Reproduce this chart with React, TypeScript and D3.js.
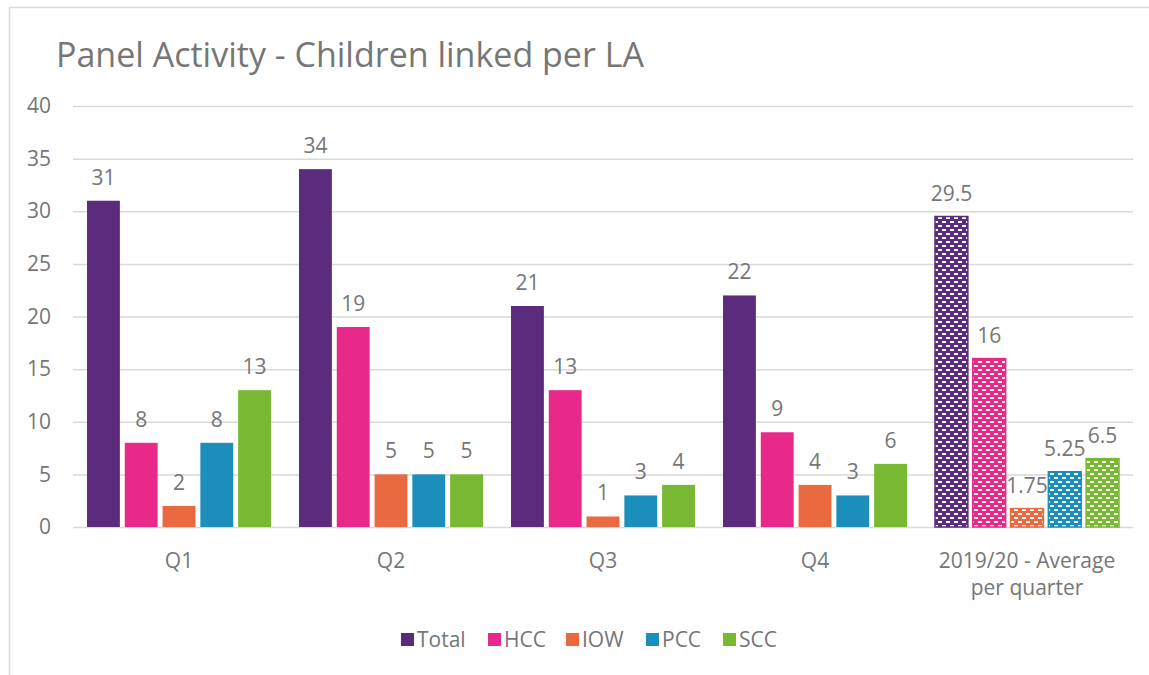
import React, { useEffect, useRef } from 'react'
import * as d3 from 'd3'

const categories = ['Q1', 'Q2', 'Q3', 'Q4', '2019/20 - Average|per quarter']
const seriesNames = ['Total', 'HCC', 'IOW', 'PCC', 'SCC']
const seriesColors = ['#5b2c7d', '#e8298a', '#e96941', '#1b8ebb', '#79b833']
const total = [31, 34, 21, 22, 29.5]
const hcc = [8, 19, 13, 9, 16]
const iow = [2, 5, 1, 4, 1.75]
const pcc = [8, 5, 3, 3, 5.25]
const scc = [13, 5, 4, 6, 6.5]
const yTicks = [0, 5, 10, 15, 20, 25, 30, 35, 40]
const patternedCategory = '2019/20 - Average|per quarter'

const W = 1149
const H = 675
const font = '"Open Sans", "Noto Sans", sans-serif'
const grey = '#767676'

export default function App() {
	const ref = useRef<SVGSVGElement>(null)

	useEffect(() => {
		const svg = d3.select(ref.current)
		svg.selectAll('*').remove()

		const values = [total, hcc, iow, pcc, scc]
		const data = categories.map((c, i) => ({
			category: c,
			items: seriesNames.map((s, j) => ({ series: s, value: values[j][i], color: seriesColors[j] })),
		}))

		const left = 73
		const right = 1133
		const top = 106
		const bottom = 527

		const x0 = d3.scaleBand().domain(categories).range([left, right]).padding(0)
		const x1 = d3.scaleBand().domain(seriesNames).range([14, x0.bandwidth() - 14]).paddingInner(0.13)
		const y = d3.scaleLinear().domain([0, 40]).range([bottom, top])

		// patterns for the average group
		const defs = svg.append('defs')
		seriesNames.forEach((s, j) => {
			const p = defs
				.append('pattern')
				.attr('id', `pat-${s}`)
				.attr('patternUnits', 'userSpaceOnUse')
				.attr('width', 8)
				.attr('height', 8)
			p.append('rect').attr('width', 8).attr('height', 8).attr('fill', seriesColors[j])
			p.append('rect').attr('x', 1).attr('y', 1).attr('width', 4).attr('height', 2).attr('fill', '#fff')
			p.append('rect').attr('x', 5).attr('y', 5).attr('width', 4).attr('height', 2).attr('fill', '#fff')
			p.append('rect').attr('x', -3).attr('y', 5).attr('width', 4).attr('height', 2).attr('fill', '#fff')
		})

		// outer frame
		svg
			.append('rect')
			.attr('x', 9.5)
			.attr('y', 7.5)
			.attr('width', W + 10)
			.attr('height', H + 10)
			.attr('fill', 'none')
			.attr('stroke', '#d9d9d9')
			.attr('stroke-width', 1.5)

		svg
			.append('text')
			.attr('x', 56)
			.attr('y', 67)
			.attr('font-family', font)
			.attr('font-size', 34)
			.attr('fill', grey)
			.text('Panel Activity - Children linked per LA')

		// grid
		const yAxis = svg
			.append('g')
			.attr('transform', `translate(${left},0)`)
			.call(
				d3
					.axisLeft(y)
					.tickValues(yTicks)
					.tickSize(-(right - left))
					.tickPadding(22)
					.tickFormat(d3.format('d'))
			)
		yAxis.select('.domain').remove()
		yAxis.selectAll('line').attr('stroke', '#d9d9d9').attr('stroke-width', 1.5)
		yAxis
			.selectAll('text')
			.attr('font-family', font)
			.attr('font-size', 21)
			.attr('fill', grey)

		const groups = svg
			.selectAll('.grp')
			.data(data)
			.enter()
			.append('g')
			.attr('class', 'grp')
			.attr('transform', (d) => `translate(${x0(d.category)},0)`)

		const bars = groups
			.selectAll('.bar')
			.data((d) => d.items.map((it) => ({ ...it, category: d.category })))
			.enter()
			.append('g')

		bars
			.append('rect')
			.attr('x', (d) => x1(d.series)!)
			.attr('y', (d) => y(d.value))
			.attr('width', x1.bandwidth())
			.attr('height', (d) => bottom - y(d.value))
			.attr('fill', (d) => (d.category === patternedCategory ? `url(#pat-${d.series})` : d.color))
			.attr('stroke', (d) => (d.category === patternedCategory ? d.color : 'none'))
			.attr('stroke-width', 1.5)

		bars
			.append('text')
			.attr('x', (d) => x1(d.series)! + x1.bandwidth() / 2)
			.attr('y', (d) => y(d.value) - 16)
			.attr('text-anchor', 'middle')
			.attr('font-family', font)
			.attr('font-size', 21)
			.attr('fill', grey)
			.text((d) => String(d.value))

		// category labels
		const cat = svg
			.append('g')
			.selectAll('text')
			.data(categories)
			.enter()
			.append('text')
			.attr('x', (d) => x0(d)! + x0.bandwidth() / 2)
			.attr('y', 568)
			.attr('text-anchor', 'middle')
			.attr('font-family', font)
			.attr('font-size', 21)
			.attr('fill', grey)
		cat
			.selectAll('tspan')
			.data((d) => d.split('|'))
			.enter()
			.append('tspan')
			.attr('x', function () {
				return (this.parentNode as SVGTextElement).getAttribute('x')
			})
			.attr('dy', (_, i) => (i === 0 ? 0 : 27))
			.text((d) => d)

		// legend
		const legendX = [401, 488, 566, 646, 723]
		const legend = svg
			.append('g')
			.selectAll('g')
			.data(seriesNames)
			.enter()
			.append('g')
			.attr('transform', (_, i) => `translate(${legendX[i]},633)`)
		legend
			.append('rect')
			.attr('width', 13)
			.attr('height', 13)
			.attr('fill', (_, i) => seriesColors[i])
		legend
			.append('text')
			.attr('x', 16)
			.attr('y', 14)
			.attr('font-family', font)
			.attr('font-size', 21)
			.attr('fill', grey)
			.text((d) => d)
	}, [])

	return (
		<div style={{ position: 'absolute', left: 0, top: 0 }}>
			<svg ref={ref} width={W} height={H} style={{ display: 'block', background: '#fff' }} />
		</div>
	)
}
